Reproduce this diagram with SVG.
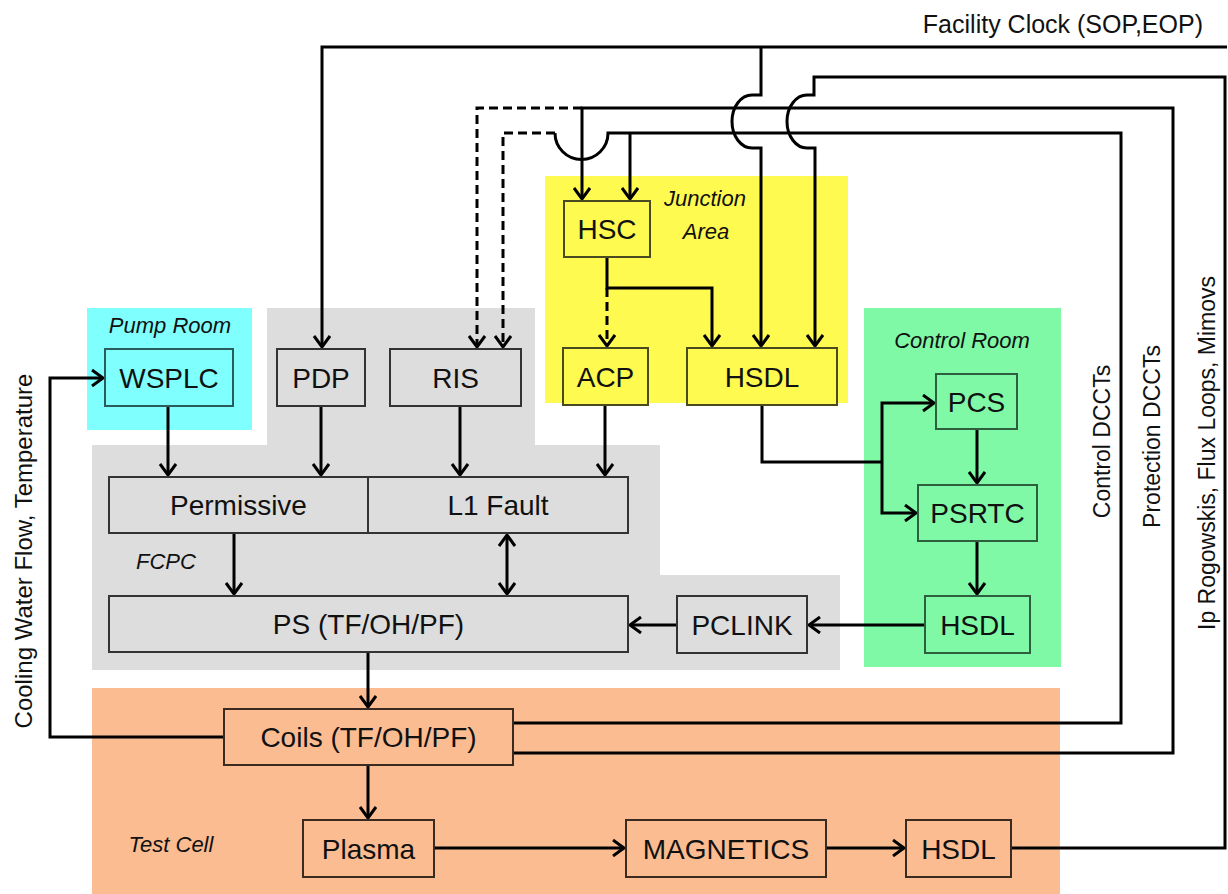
<svg xmlns="http://www.w3.org/2000/svg" width="1228" height="894" viewBox="0 0 1228 894">
<style>
.lbl{font-family:"Liberation Sans",Arial,sans-serif;font-size:28px;fill:#111;text-anchor:middle}
.it{font-family:"Liberation Sans",Arial,sans-serif;font-size:22px;font-style:italic;fill:#111;text-anchor:middle}
.side{font-family:"Liberation Sans",Arial,sans-serif;font-size:23px;fill:#111;text-anchor:middle}
.c{fill:none;stroke:#000;stroke-width:3}
.d{fill:none;stroke:#000;stroke-width:3;stroke-dasharray:9 5}
.a{marker-end:url(#arr)}
.ng{fill:#dddddd;stroke:#333;stroke-width:2}
.ny{fill:#fffa50;stroke:#4a4a20;stroke-width:2}
.nc{fill:#80ffff;stroke:#2b5c5c;stroke-width:2}
.nn{fill:#80f9a6;stroke:#2d5f3f;stroke-width:2}
.no{fill:#fbbc91;stroke:#3a2a20;stroke-width:2}
</style>
<defs>
<marker id="arr" markerWidth="16" markerHeight="18" refX="13" refY="9" orient="auto-start-reverse" markerUnits="userSpaceOnUse">
<path d="M2,1 L13,9 L2,17" fill="none" stroke="#000" stroke-width="3" stroke-dasharray="none"/>
</marker>
</defs>
<rect width="1228" height="894" fill="#fff"/>
<g id="regions">
<rect id="pump-room" x="87" y="308" width="165" height="122" fill="#80ffff"/>
<polygon id="fcpc" points="267,308 535,308 535,445 660,445 660,575 840,575 840,670 92,670 92,445 267,445" fill="#dddddd"/>
<rect id="junction-area" x="545" y="176" width="303" height="227" fill="#fffa50"/>
<rect id="control-room" x="864" y="308" width="197" height="359" fill="#80f9a6"/>
<rect id="test-cell" x="92" y="688" width="968" height="206" fill="#fbbc91"/>
<text class="it" x="170" y="333">Pump Room</text>
<text class="it" x="166" y="569">FCPC</text>
<text class="it" x="705" y="206">Junction</text>
<text class="it" x="706" y="239">Area</text>
<text class="it" x="962" y="348">Control Room</text>
<text class="it" x="171" y="852">Test Cell</text>
</g>
<g id="connectors">
<path class="c a" d="M1227,47 H322 V347"/>
<path class="c a" d="M761,47 V95 H752 A20,26.5 0 0 0 752,148 H761 V346"/>
<path class="c a" d="M1011,848 H1225 V77 H814 V95 H807 A20,26.5 0 0 0 807,148 H815 V346"/>
<path class="c a" d="M513,753 H1173 V108 H582 V199"/>
<path class="d a" d="M582,108 H477 V347"/>
<path class="c" d="M513,723 H1121 V133 H608 A26.5,26.5 0 0 1 555,133"/>
<path class="d a" d="M555,133 H503 V347"/>
<path class="c a" d="M630,133 V199"/>
<path class="c a" d="M607,257 V288 H712 V346"/>
<path class="d a" d="M607,288 V346"/>
<path class="c a" d="M605,405 V475"/>
<path class="c" d="M762,405 V462 H882"/>
<path class="c a" d="M882,462 V403 H934"/>
<path class="c a" d="M882,462 V513 H916"/>
<path class="c a" d="M977,429 V483"/>
<path class="c a" d="M977,541 V594"/>
<path class="c a" d="M925,625 H809"/>
<path class="c a" d="M677,625 H630"/>
<path class="c a" d="M168,406 V475"/>
<path class="c a" d="M321,406 V475"/>
<path class="c a" d="M460,406 V475"/>
<path class="c a" d="M234,533 V594"/>
<path class="c a" d="M507,535 V594" marker-start="url(#arr)"/>
<path class="c a" d="M368,652 V707"/>
<path class="c a" d="M368,765 V818"/>
<path class="c a" d="M434,848 H624"/>
<path class="c a" d="M826,848 H904"/>
<path class="c a" d="M224,737 H50 V378 H103"/>
</g>
<g id="WSPLC"><rect class="nc" x="105" y="349" width="128" height="57"/><text class="lbl" x="169" y="388">WSPLC</text></g>
<g id="PDP"><rect class="ng" x="277" y="349" width="88" height="57"/><text class="lbl" x="321" y="388">PDP</text></g>
<g id="RIS"><rect class="ng" x="390" y="349" width="131" height="57"/><text class="lbl" x="455.5" y="388">RIS</text></g>
<g id="Permissive"><rect class="ng" x="109" y="477" width="259" height="56"/><text class="lbl" x="238.5" y="515">Permissive</text></g>
<g id="L1Fault"><rect class="ng" x="368" y="477" width="260" height="56"/><text class="lbl" x="498" y="515">L1 Fault</text></g>
<g id="PS"><rect class="ng" x="109" y="596" width="519" height="56"/><text class="lbl" x="368.5" y="634">PS (TF/OH/PF)</text></g>
<g id="PCLINK"><rect class="ng" x="677" y="596" width="130" height="57"/><text class="lbl" x="742" y="634.5">PCLINK</text></g>
<g id="HSC"><rect class="ny" x="564" y="201" width="86" height="56"/><text class="lbl" x="607" y="239">HSC</text></g>
<g id="ACP"><rect class="ny" x="563" y="348" width="85" height="57"/><text class="lbl" x="605.5" y="386.5">ACP</text></g>
<g id="HSDL-junction"><rect class="ny" x="687" y="348" width="150" height="57"/><text class="lbl" x="762" y="386.5">HSDL</text></g>
<g id="PCS"><rect class="nn" x="936" y="374" width="81" height="55"/><text class="lbl" x="976.5" y="411.5">PCS</text></g>
<g id="PSRTC"><rect class="nn" x="918" y="485" width="119" height="56"/><text class="lbl" x="977.5" y="523">PSRTC</text></g>
<g id="HSDL-control"><rect class="nn" x="925" y="596" width="105" height="57"/><text class="lbl" x="977.5" y="634.5">HSDL</text></g>
<g id="Coils"><rect class="no" x="224" y="709" width="289" height="56"/><text class="lbl" x="368.5" y="747">Coils (TF/OH/PF)</text></g>
<g id="Plasma"><rect class="no" x="303" y="820" width="131" height="57"/><text class="lbl" x="368.5" y="858.5">Plasma</text></g>
<g id="MAGNETICS"><rect class="no" x="626" y="820" width="200" height="57"/><text class="lbl" x="726" y="858.5">MAGNETICS</text></g>
<g id="HSDL-testcell"><rect class="no" x="906" y="820" width="105" height="57"/><text class="lbl" x="958.5" y="858.5">HSDL</text></g>
<g id="labels">
<text x="1203" y="33" style="font-family:'Liberation Sans',Arial,sans-serif;font-size:25px;fill:#111;text-anchor:end">Facility Clock (SOP,EOP)</text>
<text class="side" transform="translate(32,551) rotate(-90)" style="font-size:24px">Cooling Water Flow, Temperature</text>
<text class="side" transform="translate(1110,441.5) rotate(-90)">Control DCCTs</text>
<text class="side" transform="translate(1160,436.5) rotate(-90)">Protection DCCTs</text>
<text class="side" transform="translate(1215,630) rotate(-90)" style="text-anchor:start">Ip Rogowskis, Flux Loops, Mimovs</text>
</g>
</svg>
